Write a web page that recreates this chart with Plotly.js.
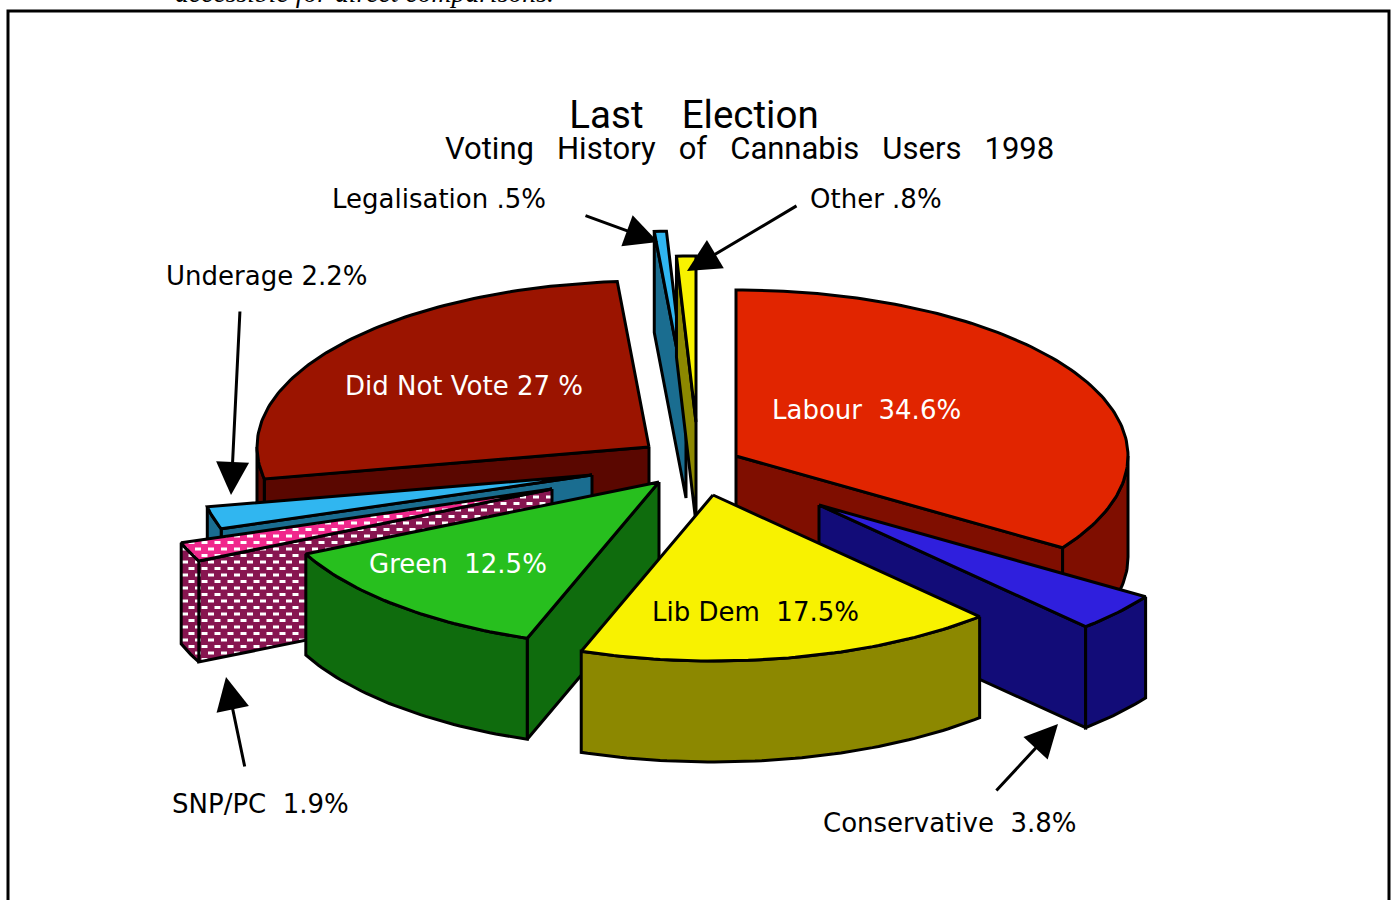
<!DOCTYPE html>
<html>
<head>
<meta charset="utf-8">
<script src="https://cdn.plot.ly/plotly-3.0.1.min.js"></script>
<style>html,body{margin:0;padding:0;background:#fff;overflow:hidden}#chart{width:1394px;height:900px}</style>
</head>
<body>
<div id="chart"></div>
<script>
// Data (clockwise from 12 o'clock)
const categories = ['Labour','Conservative','Lib Dem','Green','SNP/PC','Underage','Did Not Vote','Legalisation','Other'];
const shares     = [34.6, 3.8, 17.5, 12.5, 1.9, 2.2, 27, 0.5, 0.8];
const sliceLabels = ['Labour\u00A0 34.6%','Conservative\u00A0 3.8%','Lib Dem\u00A0 17.5%','Green\u00A0 12.5%','SNP/PC\u00A0 1.9%','Underage 2.2%','Did Not Vote 27 %','Legalisation .5%','Other .8%'];

// Styling and 3D pie set-up
const topColors  = ['#e12500','#2f1fdd','#f8f200','#27bf1e','#f0288c','#30b6f0','#9b1400','#30b6f0','#f8f200'];
const sideColors = ['#7f0e00','#120c78','#8c8800','#0f6c0d','#871550','#1a6d90','#5a0700','#1a6d90','#8c8800'];
const explodeX = [43,126,20,-34,-141,-101,-44,-7,3];
const explodeY = [-9,40,30,17,24,10,-18,-68,-43];
const drawOrder = [7,8,6,0,5,4,3,1,2];
const centre = {x:693,y:465}, rx = 392, ry = 166, depth = 101;

const total = shares.reduce((a,b)=>a+b,0);
let run = 0;
const spans = shares.map(v=>{const s=run/total*360; run+=v; return [s,run/total*360];});

function rim(i,deg,dz){
  const t = deg*Math.PI/180;
  return [centre.x+explodeX[i]+rx*Math.sin(t), centre.y+explodeY[i]-ry*Math.cos(t)+dz];
}
function apex(i,dz){return [centre.x+explodeX[i], centre.y+explodeY[i]+dz];}
function arc(i,a,b,dz){
  const pts=[], n=Math.max(2,Math.ceil(Math.abs(b-a)));
  for(let k=0;k<=n;k++) pts.push(rim(i,a+(b-a)*k/n,dz));
  return pts;
}
const isPattern = i => categories[i]==='SNP/PC';
function face(i,pts,color){
  const p = pts.concat([pts[0]]);
  const tr = {type:'scatter',mode:'lines',x:p.map(q=>q[0]),y:p.map(q=>q[1]),fill:'toself',fillcolor:color,
    line:{color:'#000',width:3},hoverinfo:'skip',showlegend:false,name:categories[i]};
  if(isPattern(i)) tr.fillpattern = {shape:'.',bgcolor:color,fgcolor:'#fff',size:13,solidity:0.3};
  return tr;
}
const traces=[];
drawOrder.forEach(i=>{
  const [a,b]=spans[i];
  const sa=Math.sin(a*Math.PI/180), sb=Math.sin(b*Math.PI/180);
  if(sa<-1e-6) traces.push(face(i,[apex(i,0),rim(i,a,0),rim(i,a,depth),apex(i,depth)],sideColors[i]));
  if(sb>1e-6)  traces.push(face(i,[apex(i,0),rim(i,b,0),rim(i,b,depth),apex(i,depth)],sideColors[i]));
  const wa=Math.max(a,90), wb=Math.min(b,270);
  if(wb>wa) traces.push(face(i,arc(i,wa,wb,0).concat(arc(i,wb,wa,depth)),sideColors[i]));
  traces.push(face(i,[apex(i,0)].concat(arc(i,a,b,0)),topColors[i]));
});

const labelFont = {family:'DejaVu Sans, sans-serif',size:26,color:'#000'};
const whiteFont = {family:'DejaVu Sans, sans-serif',size:26,color:'#fff'};
function text(t,x,y,font,anchor){return {text:t,x:x,y:y,xref:'x',yref:'y',showarrow:false,xanchor:anchor||'left',yanchor:'middle',font:font,borderpad:0};}
function arrow(tipX,tipY,tailX,tailY){return {text:'',x:tipX,y:tipY,ax:tailX,ay:tailY,xref:'x',yref:'y',axref:'x',ayref:'y',showarrow:true,arrowhead:2,arrowsize:2.2,arrowwidth:3,arrowcolor:'#000',standoff:0,startstandoff:0};}

const annotations = [
  text('Voting\u00A0\u00A0\u00A0History\u00A0\u00A0\u00A0of\u00A0\u00A0\u00A0Cannabis\u00A0\u00A0\u00A0Users\u00A0\u00A0\u00A01998',749.5,148,{family:'Roboto, sans-serif',size:31,color:'#000',weight:400},'center'),
  text(sliceLabels[7],331,199,labelFont),
  text(sliceLabels[8],809,199,labelFont),
  text(sliceLabels[5],165,276,labelFont),
  text(sliceLabels[4],171,804,labelFont),
  text(sliceLabels[1],822,823,labelFont),
  text(sliceLabels[0],771,410,whiteFont),
  text(sliceLabels[6],344,386,whiteFont),
  text(sliceLabels[3],368,564,whiteFont),
  text(sliceLabels[2],651,612,labelFont),
  arrow(658,242,584,215),
  arrow(687,271,798,205),
  arrow(231,495,240,310),
  arrow(226,677,245,768),
  arrow(1058,724,995,792),
  {text:'accessible for direct comparisons.',x:364,y:9,xref:'x',yref:'y',showarrow:false,xanchor:'center',yanchor:'bottom',font:{family:'Liberation Serif, serif',size:27.7,color:'#000',style:'italic'},borderpad:0}
];

const layout = {
  width:1394,height:900,margin:{l:0,r:0,t:0,b:0,pad:0},paper_bgcolor:'#fff',plot_bgcolor:'#fff',showlegend:false,
  xaxis:{range:[0,1394],visible:false,fixedrange:true},
  yaxis:{range:[900,0],visible:false,fixedrange:true},
  title:{text:'Last\u00A0\u00A0\u00A0\u00A0Election',x:694/1394,xanchor:'center',y:1-115/900,yanchor:'middle',font:{family:'Roboto, sans-serif',size:38.5,color:'#000',weight:400}},
  shapes:[{type:'rect',xref:'x',yref:'y',x0:8,x1:1389,y0:11,y1:940,line:{color:'#000',width:3},layer:'below'}],
  annotations:annotations
};
Plotly.newPlot('chart',traces,layout,{displayModeBar:false,staticPlot:true}).then(()=>{
  const NS='http://www.w3.org/2000/svg';
  document.querySelectorAll('#chart pattern').forEach(p=>{
    p.setAttribute('width','13');p.setAttribute('height','13');
    const bg=p.querySelector('rect'); const fill=bg?bg.getAttribute('fill'):'#871550';
    while(p.firstChild)p.removeChild(p.firstChild);
    const add=(x,y,w,h,c)=>{const r=document.createElementNS(NS,'rect');r.setAttribute('x',x);r.setAttribute('y',y);r.setAttribute('width',w);r.setAttribute('height',h);r.setAttribute('fill',c);p.appendChild(r);};
    add(0,0,13,13,fill);add(0,1.5,6,3,'#fff');add(6.5,8,6,3,'#fff');
  });
});
</script>
</body>
</html>
